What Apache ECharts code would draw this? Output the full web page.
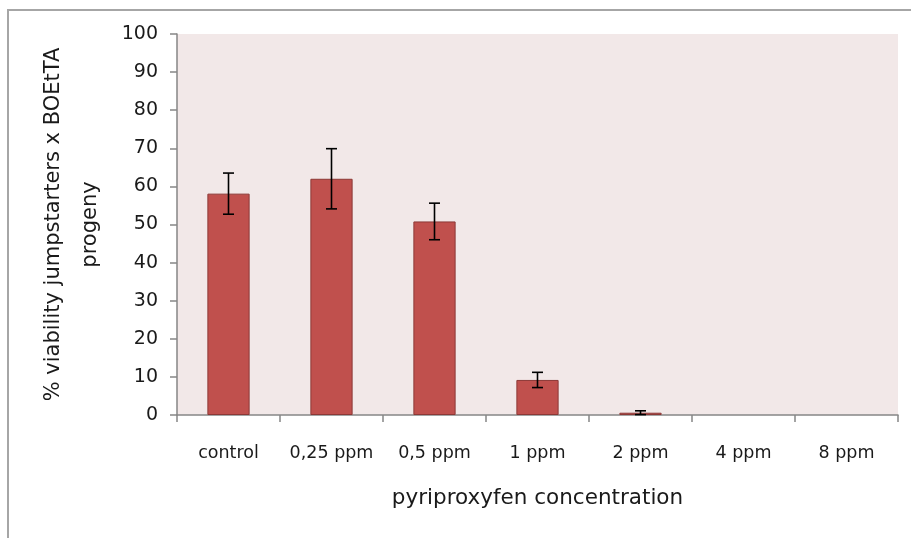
<!DOCTYPE html>
<html>
<head>
<meta charset="utf-8">
<script src="https://cdn.jsdelivr.net/npm/echarts@6/dist/echarts.min.js"></script>
<style>
  html, body { margin: 0; padding: 0; background: #fff; }
  #chart { width: 911px; height: 538px; }
</style>
</head>
<body>
<div id="chart"></div>
<script>
// 数据
const categories = ["control", "0,25 ppm", "0,5 ppm", "1 ppm", "2 ppm", "4 ppm", "8 ppm"];
const viability = [58.1, 62.0, 50.8, 9.2, 0.6, 0, 0];
const errors = [5.4, 7.9, 4.8, 2.0, 0.5, 0, 0];
const yTicks = [0, 10, 20, 30, 40, 50, 60, 70, 80, 90, 100];

const font = "DejaVu Sans";
const errData = categories.map((c, i) => [i, viability[i], errors[i]]);
// 零值柱不画边框
const barData = viability.map((v) => (v > 0 ? v : { value: v, itemStyle: { borderWidth: 0 } }));

const options = {
  animation: false,
  backgroundColor: "#fff",
  textStyle: { fontFamily: font },
  grid: { left: 177, top: 34, right: 13, bottom: 123 },
  graphic: [
    {
      type: "rect",
      shape: { x: 8, y: 10, width: 1200, height: 1200 },
      style: { fill: "none", stroke: "#a6a6a6", lineWidth: 2 },
      z: 0
    },
    {
      type: "text",
      left: 826,
      top: 58,
      style: { text: "B", font: "25px " + font, fill: "#1a1a1a" }
    }
  ],
  xAxis: {
    type: "category",
    data: categories,
    name: "pyriproxyfen concentration",
    nameLocation: "middle",
    nameGap: 72,
    nameTextStyle: { fontSize: 21.5, color: "#1a1a1a", fontFamily: font },
    axisLine: { lineStyle: { color: "#868686", width: 1.5 } },
    axisTick: { show: true, interval: 0, length: 7, lineStyle: { color: "#868686", width: 1.5 } },
    axisLabel: { interval: 0, hideOverlap: false, margin: 29, fontSize: 17.5, color: "#1a1a1a", fontFamily: font },
    splitLine: { show: false }
  },
  yAxis: {
    type: "value",
    min: 0,
    max: 100,
    interval: 10,
    name: "% viability jumpstarters x BOEtTA\nprogeny",
    nameLocation: "middle",
    nameGap: 68,
    nameTextStyle: { fontSize: 21, color: "#1a1a1a", lineHeight: 37, fontFamily: font },
    axisLine: { show: true, lineStyle: { color: "#868686", width: 1.5 } },
    axisTick: { show: true, length: 7, lineStyle: { color: "#868686", width: 1.5 } },
    axisLabel: {
      margin: 19,
      fontSize: 19,
      color: "#1a1a1a",
      fontFamily: font,
      formatter: (v) => (yTicks.includes(v) ? String(v) : "")
    },
    splitLine: { show: false },
    splitArea: { show: true, areaStyle: { color: ["#f2e8e8"] } }
  },
  series: [
    {
      type: "bar",
      data: barData,
      barWidth: "41%",
      itemStyle: { color: "#c0504d", borderColor: "#8c3836", borderWidth: 1 }
    },
    {
      type: "custom",
      data: errData,
      z: 10,
      renderItem: (params, api) => {
        const i = api.value(0);
        const v = api.value(1);
        const e = api.value(2);
        if (e <= 0) return null;
        const top = api.coord([i, v + e]);
        const bot = api.coord([i, v - e]);
        const cap = 5.5;
        const style = { stroke: "#000", lineWidth: 1.6 };
        return {
          type: "group",
          children: [
            { type: "line", shape: { x1: top[0], y1: top[1], x2: bot[0], y2: bot[1] }, style },
            { type: "line", shape: { x1: top[0] - cap, y1: top[1], x2: top[0] + cap, y2: top[1] }, style },
            { type: "line", shape: { x1: bot[0] - cap, y1: bot[1], x2: bot[0] + cap, y2: bot[1] }, style }
          ]
        };
      }
    }
  ]
};

const chart = echarts.init(document.getElementById("chart"));
chart.setOption(options);
</script>
</body>
</html>
